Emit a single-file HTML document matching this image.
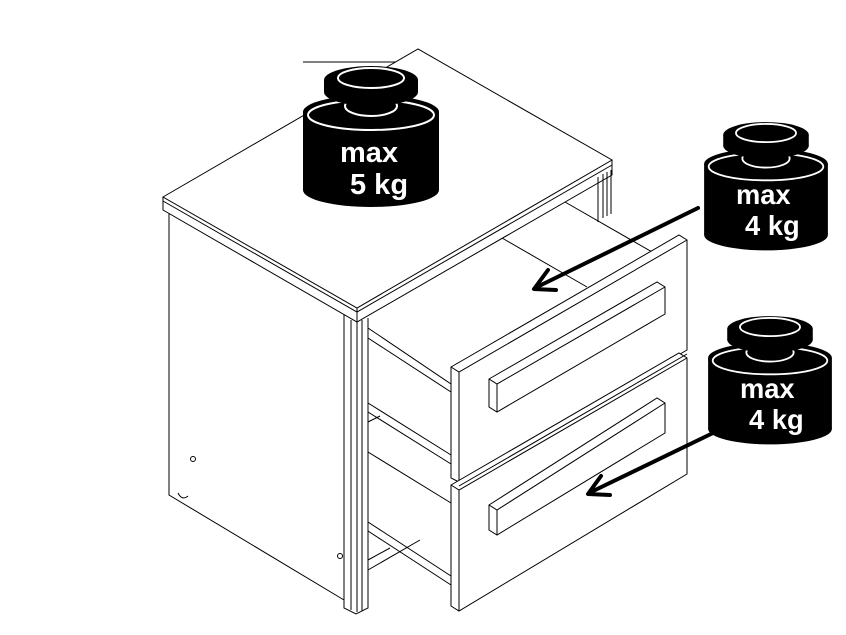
<!DOCTYPE html>
<html><head><style>html,body{margin:0;padding:0;background:#fff}svg{display:block}</style></head>
<body>
<svg width="846" height="635" viewBox="0 0 846 635" xmlns="http://www.w3.org/2000/svg">
<defs>
<g id="w">
  <ellipse cx="371" cy="190" rx="68" ry="17" fill="#000"/>
  <rect x="303" y="112" width="136" height="78" fill="#000"/>
  <ellipse cx="371" cy="112" rx="68" ry="17" fill="#000"/>
  <ellipse cx="371" cy="115" rx="63" ry="15" fill="none" stroke="#fff" stroke-width="2"/>
  <ellipse cx="371" cy="106" rx="26" ry="10" fill="#000" stroke="#fff" stroke-width="2"/>
  <ellipse cx="371" cy="92" rx="47" ry="14" fill="#000"/>
  <rect x="324" y="80" width="94" height="12" fill="#000"/>
  <ellipse cx="371" cy="80" rx="47" ry="14" fill="#000"/>
  <ellipse cx="371" cy="78" rx="33" ry="10" fill="none" stroke="#fff" stroke-width="2"/>
</g>
</defs>
<g fill="none" stroke="#000" stroke-width="1">
  <!-- top -->
  <line x1="303" y1="62" x2="440" y2="62"/>
  <polygon points="163,197 418,49 612,160 357,308" fill="#fff"/>
  <polyline points="163,197 163,210 357,322 612,175 612,160"/>
  <polyline points="163,201 357,312 612,165"/>
  <line x1="357" y1="308" x2="357" y2="322"/>
  <!-- left side -->
  <polyline points="169,213 169,495 344,600"/>
  <circle cx="193" cy="459" r="2.5"/>
  <circle cx="340" cy="556" r="2.5"/>
  <path d="M178 493 q4 8 10 3"/>
  <!-- front post -->
  <polyline points="344,315 344,608 356,614 368,608 368,318"/>
  <line x1="357" y1="322" x2="357" y2="612"/>
  <line x1="351" y1="320" x2="351" y2="610"/>
  <line x1="362" y1="320" x2="362" y2="611"/>
  <!-- back right post -->
  <line x1="598" y1="177" x2="598" y2="222"/>
  <line x1="603" y1="174" x2="603" y2="218"/>
  <line x1="607" y1="172" x2="607" y2="216"/>
  <line x1="611" y1="170" x2="611" y2="214"/>
  <!-- top drawer box -->
  <line x1="565" y1="202" x2="680" y2="268"/>
  <line x1="502" y1="238" x2="587" y2="287"/>
  <line x1="368" y1="328" x2="451" y2="384"/>
  <line x1="368" y1="338" x2="451" y2="392"/>
  <line x1="368" y1="403" x2="451" y2="455"/>
  <line x1="368" y1="412" x2="451" y2="464"/>
  <line x1="368" y1="422" x2="380" y2="416"/>
  <line x1="368" y1="452" x2="451" y2="503"/>
  <line x1="368" y1="522" x2="451" y2="576"/>
  <line x1="368" y1="531" x2="451" y2="585"/>
  <line x1="368" y1="560" x2="390" y2="548"/>
  <line x1="368" y1="570" x2="420" y2="540"/>
  <!-- drawer fronts -->
  <polygon points="451,367 679,235 687,240 687,350 459,482 451,478" fill="#fff"/>
  <polyline points="451,367 459,372 687,240"/>
  <line x1="459" y1="372" x2="459" y2="482"/>
  <polygon points="451,485 679,353 687,358 687,474 459,611 451,606" fill="#fff"/>
  <polyline points="451,485 459,490 687,358"/>
  <line x1="459" y1="490" x2="459" y2="611"/>
  <line x1="459" y1="486" x2="687" y2="354"/>
  <!-- handles -->
  <polygon points="489,379 657,282 665,287 665,314 497,412 489,407" fill="#fff"/>
  <polyline points="489,379 497,384 665,287"/>
  <line x1="497" y1="384" x2="497" y2="412"/>
  <polygon points="489,505 657,398 665,403 665,433 497,535 489,530" fill="#fff"/>
  <polyline points="489,505 497,510 665,403"/>
  <line x1="497" y1="510" x2="497" y2="535"/>
</g>
<!-- arrows -->
<g stroke="#000" stroke-width="4" fill="none" stroke-linecap="round" stroke-linejoin="round">
  <line x1="698" y1="208" x2="535" y2="288"/>
  <polyline points="548,270 534,289 556,290"/>
  <line x1="713" y1="433" x2="589" y2="493"/>
  <polyline points="601,476 588,494 610,495"/>
</g>
<!-- weights -->
<use href="#w"/>
<g font-family="Liberation Sans, sans-serif" font-weight="bold" fill="#fff" font-size="29">
  <text x="340" y="162">max</text>
  <text x="350" y="194">5 kg</text>
</g>
<g transform="translate(766,123) scale(0.91) translate(-371,-67)">
  <use href="#w"/>
  <g font-family="Liberation Sans, sans-serif" font-weight="bold" fill="#fff" font-size="30">
    <text x="338" y="156">max</text>
    <text x="348" y="190">4 kg</text>
  </g>
</g>
<g transform="translate(770,317) scale(0.91) translate(-371,-67)">
  <use href="#w"/>
  <g font-family="Liberation Sans, sans-serif" font-weight="bold" fill="#fff" font-size="30">
    <text x="338" y="156">max</text>
    <text x="348" y="190">4 kg</text>
  </g>
</g>
</svg>
</body></html>
